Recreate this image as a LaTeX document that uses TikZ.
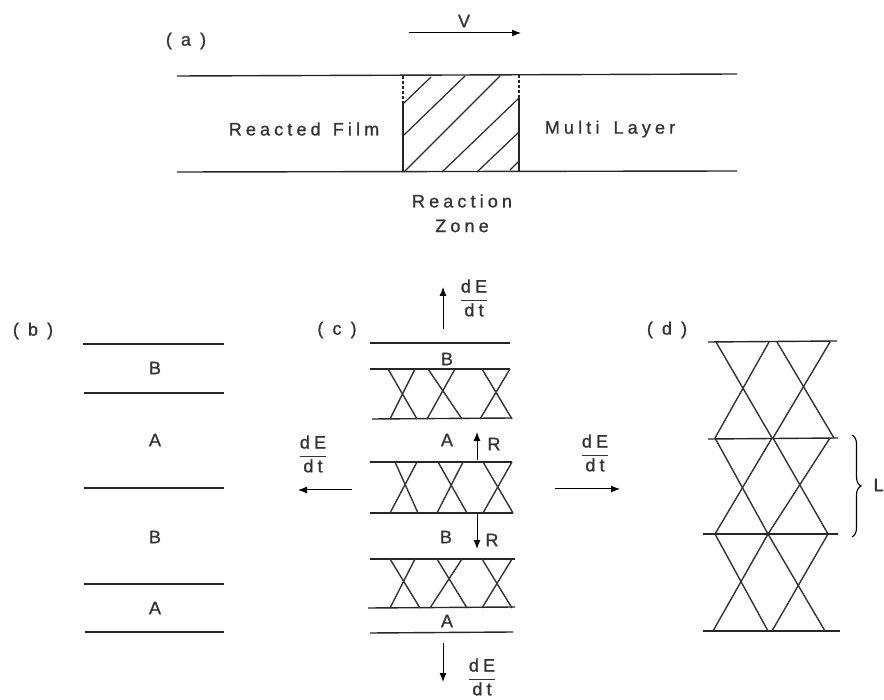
\documentclass[tikz,border=0pt]{standalone}
\usepackage{fontspec}
\setmainfont[LetterSpace=23,FakeBold=1]{Liberation Sans}
\usetikzlibrary{arrows.meta, decorations.pathreplacing}
\newcommand{\dEdt}{$\displaystyle\frac{\hbox{dE}\rule[-4pt]{0pt}{1pt}}{\rule{0pt}{15pt}\hbox{dt}}$}
\begin{document}
\begin{tikzpicture}[x=1pt, y=-1pt, thick, >=latex, font=\fontsize{18}{20}\selectfont]
  \tikzstyle{layer} = [draw, line width=1.4pt, black!85]
  \tikzstyle{diag} = [draw, line width=1.4pt, black!80]
  \tikzstyle{hatch} = [draw, line width=1.2pt, black!85]
  \tikzstyle{line} = [draw, line width=1pt, -{Latex[length=9pt,width=7pt]}]
  \tikzstyle{tag} = [inner sep=1pt, text=black!80]

  \useasboundingbox (0,0) rectangle (884,700);

  % part a
  \node [tag] (taga) at (186,41) {( a )};
  \node [tag] (vel) at (464,21) {V};
  \coordinate (velstart) at (409,33);
  \coordinate (velend) at (521,33);
  \path [line] (velstart) -- (velend);

  \path [layer] (177,76) -- (737,74);
  \path [layer] (177,172) -- (737,171);
  \path [hatch, densely dashed] (403,76) -- (403,104);
  \path [hatch] (403,104) -- (403,172);
  \path [hatch, densely dashed] (519,75) -- (519,98);
  \path [hatch] (519,98) -- (519,172);
  \path [hatch] (404,103) -- (431,77);
  \path [hatch] (404,135) -- (465,76);
  \path [hatch] (404,172) -- (500,76);
  \path [hatch] (442,172) -- (519,98);
  \path [hatch] (477,172) -- (519,132);
  \path [hatch] (510,170) -- (519,161);
  \node [tag] (reacted) at (304,129) {Reacted\hspace{3pt} Film};
  \node [tag] (multi) at (610,129) {Multi\hspace{5pt} Layer};
  \node [tag] (reaction) at (462,201) {Reaction};
  \node [tag] (zone) at (462,226) {Zone};

  % part b
  \node [tag] (tagb) at (33,331) {( b )};
  \path [layer] (83,344) -- (224,344);
  \path [layer] (84,393) -- (224,393);
  \path [layer] (84,488) -- (224,488);
  \path [layer] (84,584) -- (224,584);
  \path [layer] (85,632) -- (224,632);
  \node [tag] (bb1) at (155,368) {B};
  \node [tag] (ba1) at (155,440) {A};
  \node [tag] (bb2) at (155,537) {B};
  \node [tag] (ba2) at (155,608) {A};

  % part c
  \node [tag] (tagc) at (337,330) {( c )};
  \path [layer] (370,343) -- (510,343);
  \path [layer] (370,369) -- (510,369);
  \path [layer] (372,419) -- (512,418);
  \path [layer] (370,462) -- (512,462);
  \path [layer] (370,513) -- (513,513);
  \path [layer] (370,559) -- (515,559);
  \path [layer] (368,608) -- (515,607);
  \path [layer] (370,633) -- (513,632);
  \path [diag] (388,369) -- (417,419);
  \path [diag] (415,369) -- (390,419);
  \path [diag] (428,369) -- (462,419);
  \path [diag] (455,369) -- (427,419);
  \path [diag] (482,369) -- (512,419);
  \path [diag] (510,369) -- (480,419);
  \path [diag] (395,462) -- (418,513);
  \path [diag] (417,462) -- (390,513);
  \path [diag] (438,462) -- (467,513);
  \path [diag] (463,462) -- (437,513);
  \path [diag] (483,462) -- (513,513);
  \path [diag] (512,462) -- (483,513);
  \path [diag] (390,559) -- (420,608);
  \path [diag] (415,559) -- (390,608);
  \path [diag] (437,559) -- (467,608);
  \path [diag] (462,559) -- (430,608);
  \path [diag] (482,559) -- (512,608);
  \path [diag] (512,559) -- (482,608);
  \node [tag] (cb1) at (447,359) {B};
  \node [tag] (ca1) at (447,440) {A};
  \node [tag] (cb2) at (446,537) {B};
  \node [tag] (ca2) at (447,621) {A};
  \node [tag] (rup) at (494,444) {R};
  \node [tag] (rdown) at (492,540) {R};
  \coordinate (rupstart) at (477,460);
  \coordinate (rupend) at (477,432);
  \coordinate (rdownstart) at (477,513);
  \coordinate (rdownend) at (477,549);
  \path [line] (rupstart) -- (rupend);
  \path [line] (rdownstart) -- (rdownend);

  % energy flow
  \node [tag] (fluxtop) at (474,298) {\dEdt};
  \node [tag] (fluxleft) at (313,454) {\dEdt};
  \node [tag] (fluxright) at (595,453) {\dEdt};
  \node [tag] (fluxbottom) at (482,677) {\dEdt};
  \coordinate (topstart) at (443,329);
  \coordinate (topend) at (443,287);
  \coordinate (leftstart) at (352,490);
  \coordinate (leftend) at (298,490);
  \coordinate (rightstart) at (555,489);
  \coordinate (rightend) at (620,489);
  \coordinate (bottomstart) at (443,643);
  \coordinate (bottomend) at (443,682);
  \path [line] (topstart) -- (topend);
  \path [line] (leftstart) -- (leftend);
  \path [line] (rightstart) -- (rightend);
  \path [line] (bottomstart) -- (bottomend);

  % part d
  \node [tag] (tagd) at (667,330) {( d )};
  \path [layer] (708,342) -- (837,341);
  \path [layer] (708,439) -- (838,438);
  \path [layer] (703,534) -- (838,534);
  \path [layer] (703,631) -- (840,631);
  \path [diag] (716,342) -- (772,438);
  \path [diag] (769,342) -- (715,438);
  \path [diag] (777,342) -- (834,438);
  \path [diag] (830,342) -- (773,438);
  \path [diag] (715,438) -- (768,534);
  \path [diag] (772,438) -- (715,534);
  \path [diag] (773,438) -- (828,534);
  \path [diag] (830,438) -- (768,534);
  \path [diag] (715,534) -- (768,631);
  \path [diag] (768,534) -- (713,631);
  \path [diag] (768,534) -- (825,631);
  \path [diag] (828,534) -- (772,631);
  \coordinate (bracetop) at (852,435);
  \coordinate (bracebottom) at (852,537);
  \path [draw, line width=1.1pt, decorate, decoration={brace, amplitude=9pt}] (bracetop) -- (bracebottom);
  \node [tag, anchor=east, inner sep=0pt] (period) at (884,485) {L};
\end{tikzpicture}
\end{document}
